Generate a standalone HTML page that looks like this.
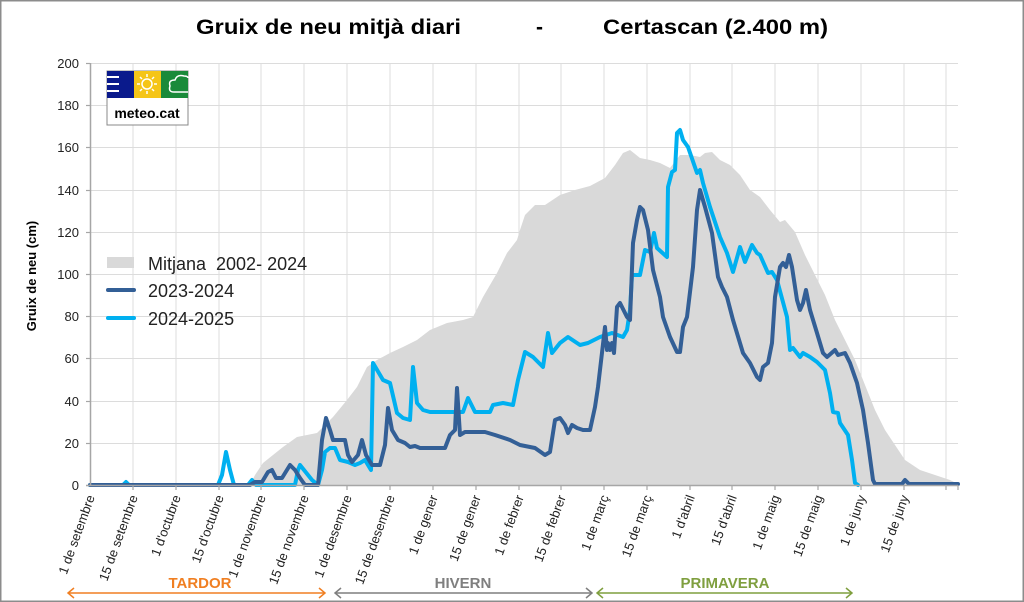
<!DOCTYPE html>
<html><head><meta charset="utf-8"><style>
html,body{margin:0;padding:0;background:#fff}
svg{display:block;font-family:"Liberation Sans",Arial,sans-serif}
</style></head><body>
<svg width="1024" height="602" viewBox="0 0 1024 602" xmlns="http://www.w3.org/2000/svg">
<rect x="0.5" y="0.5" width="1023" height="601" fill="#fff" stroke="#8c8c8c" stroke-width="2"/>
<text x="196" y="34" font-size="21" font-weight="bold" textLength="265" lengthAdjust="spacingAndGlyphs">Gruix de neu mitjà diari</text>
<text x="536" y="34" font-size="21" font-weight="bold">-</text>
<text x="603" y="34" font-size="21" font-weight="bold" textLength="225" lengthAdjust="spacingAndGlyphs">Certascan (2.400 m)</text>
<g stroke="#dcdcdc" stroke-width="1">
<line x1="90" y1="63.5" x2="958" y2="63.5"/><line x1="90" y1="105.5" x2="958" y2="105.5"/><line x1="90" y1="147.5" x2="958" y2="147.5"/><line x1="90" y1="190.5" x2="958" y2="190.5"/><line x1="90" y1="232.5" x2="958" y2="232.5"/><line x1="90" y1="274.5" x2="958" y2="274.5"/><line x1="90" y1="316.5" x2="958" y2="316.5"/><line x1="90" y1="358.5" x2="958" y2="358.5"/><line x1="90" y1="401.5" x2="958" y2="401.5"/><line x1="90" y1="443.5" x2="958" y2="443.5"/>
<line x1="133" y1="63" x2="133" y2="485"/><line x1="176" y1="63" x2="176" y2="485"/><line x1="219" y1="63" x2="219" y2="485"/><line x1="261" y1="63" x2="261" y2="485"/><line x1="304" y1="63" x2="304" y2="485"/><line x1="347" y1="63" x2="347" y2="485"/><line x1="390" y1="63" x2="390" y2="485"/><line x1="433" y1="63" x2="433" y2="485"/><line x1="476" y1="63" x2="476" y2="485"/><line x1="519" y1="63" x2="519" y2="485"/><line x1="561" y1="63" x2="561" y2="485"/><line x1="604" y1="63" x2="604" y2="485"/><line x1="647" y1="63" x2="647" y2="485"/><line x1="690" y1="63" x2="690" y2="485"/><line x1="732" y1="63" x2="732" y2="485"/><line x1="775" y1="63" x2="775" y2="485"/><line x1="818" y1="63" x2="818" y2="485"/><line x1="861" y1="63" x2="861" y2="485"/><line x1="904" y1="63" x2="904" y2="485"/><line x1="946" y1="63" x2="946" y2="485"/>
</g>
<polygon fill="#d9d9d9" points="250,485 255,475 263,463 283,447 297,437 317,433 333,417 347,400 357,387 367,367 377,360 390,353 403,347 417,340 430,330 447,323 463,320 473,317 483,297 497,273 507,253 517,240 520,230 525,215 535,205 545,205 560,195 575,190 590,186 605,178 615,165 623,153 630,150 640,158 650,160 660,163 670,168 680,155 690,155 700,157 705,153 712,152 720,160 730,165 740,175 750,190 760,197 770,210 780,222 785,220 795,232 805,255 815,275 825,295 835,320 845,340 855,360 865,385 875,410 885,430 895,445 905,460 920,470 935,475 950,480 958,484 958,485"/>
<g fill="none" stroke-linejoin="round" stroke-linecap="round" stroke-width="4">
<polyline stroke="#00b0f0" points="90,485 123,485 126,482 129,485 218,485 222,475 226,452 230,470 234,485 248,485 252,480 256,485 295,485 298,470 300,465 304,470 308,475 312,480 318,485 322,470 325,452 330,448 335,448 340,460 348,462 355,465 360,463 365,460 368,465 371,470 373,363 383,380 390,383 397,413 403,418 410,420 413,367 417,403 423,410 430,412 463,412 468,398 475,412 490,412 493,405 503,403 513,405 518,380 525,352 533,357 543,367 548,333 552,353 560,343 568,337 580,345 588,343 600,337 612,333 623,337 627,330 630,310 632,275 640,275 645,250 650,252 654,233 657,248 667,257 668,187 672,172 675,170 677,133 680,130 683,140 688,147 697,173 700,170 703,183 710,207 720,237 727,253 733,272 740,247 745,262 752,245 757,253 760,255 768,273 772,272 777,280 787,317 790,350 793,348 800,357 803,353 810,357 817,362 825,370 830,393 833,412 838,413 840,423 848,435 852,460 855,483 858,485"/>
<polyline stroke="#335f96" points="90,485 250,485 255,482 262,482 268,472 272,470 276,478 282,478 290,465 295,470 300,478 305,485 318,485 322,440 326,418 330,430 333,440 345,440 348,455 352,462 358,455 362,440 366,455 372,465 380,465 385,445 388,408 392,430 398,440 405,443 410,447 415,446 420,448 445,448 450,435 455,430 457,388 460,435 465,432 485,432 495,435 510,440 520,445 535,448 545,455 550,452 555,420 560,418 565,425 568,433 572,425 577,428 583,430 590,430 595,407 598,387 605,327 607,350 608,343 610,350 612,343 614,353 617,307 620,303 627,317 630,320 633,243 637,220 640,207 643,210 648,230 653,270 660,297 663,317 670,337 677,352 680,352 683,327 687,317 693,267 697,210 700,190 705,207 712,233 718,277 722,287 727,297 733,320 743,353 750,363 757,377 760,380 763,367 768,363 772,343 775,297 780,267 783,263 786,267 789,255 792,267 797,300 800,310 803,303 806,290 810,310 817,333 823,353 827,357 835,350 838,355 845,353 850,363 857,383 863,410 868,443 873,480 875,484 902,484 905,480 909,484 958,484"/>
</g>
<line x1="90.5" y1="63" x2="90.5" y2="486" stroke="#a6a6a6" stroke-width="1.5"/>
<line x1="86" y1="485.5" x2="958" y2="485.5" stroke="#a6a6a6" stroke-width="1.5"/>
<g stroke="#a6a6a6" stroke-width="1.2">
<line x1="86" y1="63.5" x2="90" y2="63.5"/><line x1="86" y1="105.5" x2="90" y2="105.5"/><line x1="86" y1="147.5" x2="90" y2="147.5"/><line x1="86" y1="190.5" x2="90" y2="190.5"/><line x1="86" y1="232.5" x2="90" y2="232.5"/><line x1="86" y1="274.5" x2="90" y2="274.5"/><line x1="86" y1="316.5" x2="90" y2="316.5"/><line x1="86" y1="358.5" x2="90" y2="358.5"/><line x1="86" y1="401.5" x2="90" y2="401.5"/><line x1="86" y1="443.5" x2="90" y2="443.5"/>
<line x1="133" y1="485" x2="133" y2="490"/><line x1="176" y1="485" x2="176" y2="490"/><line x1="219" y1="485" x2="219" y2="490"/><line x1="261" y1="485" x2="261" y2="490"/><line x1="304" y1="485" x2="304" y2="490"/><line x1="347" y1="485" x2="347" y2="490"/><line x1="390" y1="485" x2="390" y2="490"/><line x1="433" y1="485" x2="433" y2="490"/><line x1="476" y1="485" x2="476" y2="490"/><line x1="519" y1="485" x2="519" y2="490"/><line x1="561" y1="485" x2="561" y2="490"/><line x1="604" y1="485" x2="604" y2="490"/><line x1="647" y1="485" x2="647" y2="490"/><line x1="690" y1="485" x2="690" y2="490"/><line x1="732" y1="485" x2="732" y2="490"/><line x1="775" y1="485" x2="775" y2="490"/><line x1="818" y1="485" x2="818" y2="490"/><line x1="861" y1="485" x2="861" y2="490"/><line x1="904" y1="485" x2="904" y2="490"/><line x1="946" y1="485" x2="946" y2="490"/><line x1="958" y1="485" x2="958" y2="490"/>
</g>
<g font-size="13" fill="#222" text-anchor="end">
<text x="79" y="68">200</text><text x="79" y="110">180</text><text x="79" y="152">160</text><text x="79" y="195">140</text><text x="79" y="237">120</text><text x="79" y="279">100</text><text x="79" y="321">80</text><text x="79" y="363">60</text><text x="79" y="406">40</text><text x="79" y="448">20</text><text x="79" y="490">0</text>
</g>
<text transform="translate(36,276) rotate(-90)" font-size="13" font-weight="bold" text-anchor="middle">Gruix de neu (cm)</text>
<g font-size="13" fill="#222" text-anchor="end">
<text transform="translate(95,497) rotate(-70)">1 de setembre</text>
<text transform="translate(138,497) rotate(-70)">15 de setembre</text>
<text transform="translate(181,497) rotate(-70)">1 d'octubre</text>
<text transform="translate(224,497) rotate(-70)">15 d'octubre</text>
<text transform="translate(266,497) rotate(-70)">1 de novembre</text>
<text transform="translate(309,497) rotate(-70)">15 de novembre</text>
<text transform="translate(352,497) rotate(-70)">1 de desembre</text>
<text transform="translate(395,497) rotate(-70)">15 de desembre</text>
<text transform="translate(438,497) rotate(-70)">1 de gener</text>
<text transform="translate(481,497) rotate(-70)">15 de gener</text>
<text transform="translate(524,497) rotate(-70)">1 de febrer</text>
<text transform="translate(566,497) rotate(-70)">15 de febrer</text>
<text transform="translate(609,497) rotate(-70)">1 de març</text>
<text transform="translate(652,497) rotate(-70)">15 de març</text>
<text transform="translate(695,497) rotate(-70)">1 d'abril</text>
<text transform="translate(737,497) rotate(-70)">15 d'abril</text>
<text transform="translate(780,497) rotate(-70)">1 de maig</text>
<text transform="translate(823,497) rotate(-70)">15 de maig</text>
<text transform="translate(866,497) rotate(-70)">1 de juny</text>
<text transform="translate(909,497) rotate(-70)">15 de juny</text>
</g>
<rect x="107" y="257" width="27" height="11" fill="#d9d9d9"/>
<line x1="108" y1="290" x2="134" y2="290" stroke="#335f96" stroke-width="4" stroke-linecap="round"/>
<line x1="108" y1="318" x2="134" y2="318" stroke="#00b0f0" stroke-width="4" stroke-linecap="round"/>
<g font-size="18" fill="#222">
<text x="148" y="270">Mitjana&#160; 2002- 2024</text>
<text x="148" y="297">2023-2024</text>
<text x="148" y="325">2024-2025</text>
</g>
<rect x="107" y="71" width="81" height="54" fill="#fff" stroke="#888"/>
<rect x="107" y="71" width="27" height="27" fill="#0a1a8c"/>
<rect x="134" y="71" width="27" height="27" fill="#f5c518"/>
<rect x="161" y="71" width="27" height="27" fill="#1a8a3a"/>
<g stroke="#fff" stroke-width="2"><line x1="107" y1="77" x2="119" y2="77"/><line x1="107" y1="84" x2="119" y2="84"/><line x1="107" y1="91" x2="119" y2="91"/></g>
<circle cx="147" cy="84" r="5" fill="none" stroke="#fff" stroke-width="1.5"/>
<g stroke="#fff" stroke-width="1.5"><line x1="147" y1="74" x2="147" y2="77"/><line x1="147" y1="91" x2="147" y2="94"/><line x1="137" y1="84" x2="140" y2="84"/><line x1="154" y1="84" x2="157" y2="84"/><line x1="140" y1="77" x2="142" y2="79"/><line x1="152" y1="89" x2="154" y2="91"/><line x1="154" y1="77" x2="152" y2="79"/><line x1="140" y1="91" x2="142" y2="89"/></g>
<path d="M188,92 L174,92 Q168,92 170,86 Q168,80 175,80 Q177,74 184,76 Q188,76 188,78" fill="none" stroke="#fff" stroke-width="1.5"/>
<text x="147" y="118" font-size="14" font-weight="bold" text-anchor="middle">meteo.cat</text>
<g font-size="15" font-weight="bold" text-anchor="middle">
<text x="200" y="588" fill="#f07f22">TARDOR</text>
<text x="463" y="588" fill="#7f7f7f">HIVERN</text>
<text x="725" y="588" fill="#7f9f3f">PRIMAVERA</text>
</g>
<g fill="none" stroke-width="1.5">
<path d="M68,593 H325 M74,588 L68,593 L74,598 M319,588 L325,593 L319,598" stroke="#f07f22"/>
<path d="M335,593 H592 M341,588 L335,593 L341,598 M586,588 L592,593 L586,598" stroke="#7f7f7f"/>
<path d="M597,593 H852 M603,588 L597,593 L603,598 M846,588 L852,593 L846,598" stroke="#7f9f3f"/>
</g>
</svg>
</body></html>
